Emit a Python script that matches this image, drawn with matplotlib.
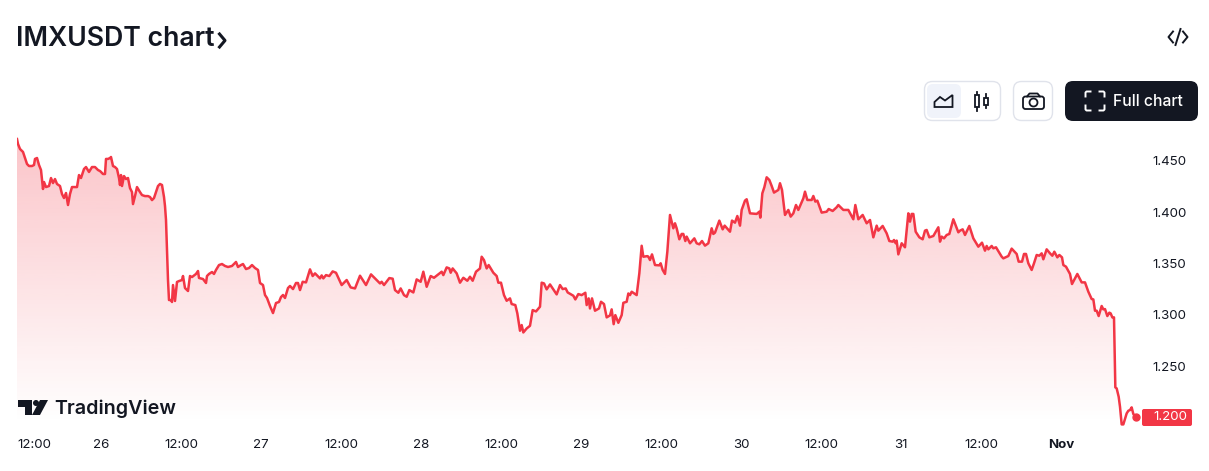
import numpy as np
import matplotlib
matplotlib.use('Agg')
import matplotlib.pyplot as plt
from matplotlib.patches import FancyBboxPatch, Polygon, Circle, Rectangle

# hours counted from Oct 26 00:00
hours = [
    -12.6, -12.45, -12.15, -11.7, -11.4, -11.1, -10.8, -10.35, -10.05, -9.9, -9.6, -9.3, -9.0, -8.7, -8.55, -8.25,
    -7.8, -7.5, -7.2, -6.9, -6.6, -6.15, -5.85, -5.55, -5.25, -4.95, -4.65, -4.35, -3.9, -3.6, -3.3, -3.0,
    -2.55, -2.25, -1.8, -1.35, -0.9, -0.45, -0.15, 0, 0.3, 0.6, 0.75, 1.05, 1.35, 1.5, 1.8, 2.1,
    2.4, 2.7, 2.85, 3.0, 3.15, 3.45, 3.75, 4.05, 4.35, 4.65, 4.8, 5.1, 5.4, 5.85, 6.15, 6.6,
    7.05, 7.35, 7.65, 7.95, 8.25, 8.55, 8.85, 9.15, 9.45, 9.6, 9.75, 9.9, 10.05, 10.2, 10.5, 10.65,
    10.8, 11.1, 11.4, 11.7, 12.15, 12.3, 12.6, 13.05, 13.35, 13.65, 14.25, 14.55, 14.7, 15.3, 15.75, 15.9,
    16.2, 16.65, 16.95, 17.25, 17.7, 18.15, 18.6, 19.05, 19.65, 20.25, 20.55, 21.0, 21.3, 21.75, 22.2, 22.65,
    23.1, 23.55, 23.85, 24.3, 24.6, 24.9, 25.35, 25.8, 26.25, 26.7, 27.0, 27.3, 27.6, 28.05, 28.35, 28.8,
    29.25, 29.55, 29.85, 30.25, 30.75, 31.35, 31.75, 32.1, 32.85, 33.1, 33.35, 33.75, 34.25, 34.75, 35.25, 36.1,
    36.85, 37.45, 38.1, 38.85, 39.75, 40.5, 41.85, 42.1, 42.45, 43.25, 43.75, 44.1, 44.6, 44.95, 45.45, 45.85,
    46.25, 46.85, 47.35, 47.95, 48.35, 48.85, 49.45, 49.95, 51.1, 51.35, 51.85, 52.25, 52.45, 52.75, 53.35, 53.85,
    54.35, 54.95, 55.35, 55.75, 56.25, 56.85, 57.1, 57.45, 57.85, 58.15, 58.85, 59.35, 59.6, 60.0, 60.45, 60.85,
    61.35, 61.6, 62.15, 62.45, 62.85, 63.1, 63.35, 63.85, 64.35, 64.75, 65.25, 65.85, 66.1, 66.45, 66.85, 67.35,
    68.35, 68.85, 69.25, 69.7, 70.0, 70.85, 71.15, 71.6, 72.1, 72.65, 72.85, 73.15, 73.35, 73.65, 74.1, 74.7,
    75.0, 75.45, 75.85, 76.35, 76.6, 76.9, 77.15, 77.6, 78.1, 78.35, 78.85, 79.1, 79.35, 79.6, 80.35, 80.75,
    81.1, 81.35, 81.95, 82.1, 82.35, 82.65, 83.1, 83.75, 83.95, 84.25, 84.6, 84.95, 85.35, 85.85, 86.1, 86.35,
    86.75, 87.1, 87.35, 87.65, 87.85, 88.35, 89.0, 89.35, 89.75, 90.15, 90.6, 91.1, 91.6, 91.85, 92.1, 92.75,
    93.25, 93.55, 94.35, 94.65, 95.1, 95.45, 95.85, 96.1, 96.6, 96.85, 97.35, 98.35, 98.75, 98.9, 99.2, 99.5,
    99.85, 100.25, 100.6, 100.95, 101.6, 101.85, 102.15, 102.6, 103.1, 103.45, 103.85, 104.25, 104.6, 105.35, 105.6, 105.95,
    106.6, 106.85, 107.15, 107.45, 108.1, 108.85, 109.15, 109.75, 110.35, 110.6, 111.35, 112.1, 112.85, 113.15, 113.6, 114.25,
    114.85, 115.35, 115.85, 116.35, 116.6, 117.25, 117.85, 118.25, 118.75, 118.95, 119.2, 119.35, 119.6, 120.1, 120.6, 121.1,
    121.35, 121.6, 121.85, 122.2, 122.75, 123.25, 123.6, 123.85, 124.25, 124.85, 125.6, 125.85, 126.1, 126.45, 126.85, 127.25,
    127.85, 128.6, 128.85, 129.25, 129.6, 130.25, 130.85, 131.6, 132.15, 132.6, 132.85, 133.1, 133.6, 133.85, 134.25, 135.1,
    135.35, 136.1, 136.6, 137.35, 137.65, 138.15, 138.45, 138.75, 139.1, 139.6, 139.95, 140.35, 140.75, 141.1, 141.35, 141.85,
    142.35, 142.7, 143.0, 143.45, 143.75, 144.15, 144.35, 144.75, 145.35, 145.65, 146.45, 147.1, 147.6, 148.1, 148.6, 148.85,
    149.1, 149.35, 149.65, 150.1, 150.35, 150.6, 150.95, 151.25, 151.45, 151.7, 151.95, 152.05, 152.15, 152.35, 152.65, 152.85,
    153.1, 153.35, 153.85, 154.1, 154.35, 154.6, 154.85, 155.2,
]
prices = [
    1.4714, 1.4666, 1.4617, 1.4588, 1.4529, 1.4471, 1.4451, 1.4451, 1.4461, 1.4520, 1.4529, 1.4461, 1.4412, 1.4227, 1.4295, 1.4246,
    1.4256, 1.4334, 1.4285, 1.4324, 1.4276, 1.4256, 1.4178, 1.4139, 1.4188, 1.4071, 1.4178, 1.4246, 1.4246, 1.4246, 1.4363, 1.4334,
    1.4422, 1.4441, 1.4393, 1.4441, 1.4441, 1.4412, 1.4402, 1.4393, 1.4373, 1.4373, 1.4520, 1.4520, 1.4529, 1.4539, 1.4451, 1.4441,
    1.4422, 1.4334, 1.4266, 1.4363, 1.4256, 1.4353, 1.4324, 1.4334, 1.4236, 1.4197, 1.4080, 1.4158, 1.4246, 1.4197, 1.4168, 1.4158,
    1.4158, 1.4149, 1.4119, 1.4139, 1.4197, 1.4256, 1.4276, 1.4266, 1.4149, 1.4061, 1.3925, 1.3633, 1.3340, 1.3145, 1.3145, 1.3126,
    1.3291, 1.3136, 1.3321, 1.3330, 1.3340, 1.3379, 1.3262, 1.3233, 1.3379, 1.3369, 1.3399, 1.3428, 1.3360, 1.3350, 1.3311, 1.3379,
    1.3399, 1.3418, 1.3399, 1.3438, 1.3486, 1.3496, 1.3477, 1.3467, 1.3477, 1.3516, 1.3467, 1.3486, 1.3496, 1.3447, 1.3457, 1.3486,
    1.3457, 1.3438, 1.3311, 1.3291, 1.3194, 1.3165, 1.3087, 1.3018, 1.3116, 1.3126, 1.3174, 1.3194, 1.3165, 1.3262, 1.3282, 1.3252,
    1.3311, 1.3311, 1.3242, 1.3323, 1.3317, 1.3444, 1.3379, 1.3405, 1.3356, 1.3385, 1.3356, 1.3388, 1.3379, 1.3424, 1.3411, 1.3291,
    1.3340, 1.3268, 1.3258, 1.3382, 1.3291, 1.3395, 1.3307, 1.3323, 1.3291, 1.3359, 1.3353, 1.3242, 1.3216, 1.3258, 1.3193, 1.3177,
    1.3242, 1.3219, 1.3346, 1.3323, 1.3421, 1.3274, 1.3379, 1.3362, 1.3421, 1.3388, 1.3463, 1.3453, 1.3411, 1.3453, 1.3405, 1.3314,
    1.3362, 1.3333, 1.3372, 1.3333, 1.3421, 1.3453, 1.3567, 1.3534, 1.3453, 1.3486, 1.3411, 1.3379, 1.3314, 1.3314, 1.3193, 1.3138,
    1.3161, 1.3106, 1.3096, 1.3015, 1.2846, 1.2901, 1.2829, 1.2868, 1.2894, 1.3047, 1.3034, 1.3080, 1.3314, 1.3307, 1.3249, 1.3297,
    1.3200, 1.3291, 1.3252, 1.3258, 1.3219, 1.3187, 1.3151, 1.3203, 1.3193, 1.3216, 1.3096, 1.3161, 1.3063, 1.3161, 1.3041, 1.3063,
    1.3128, 1.3106, 1.2976, 1.2995, 1.3054, 1.2910, 1.2998, 1.2923, 1.2998, 1.3118, 1.3128, 1.3209, 1.3193, 1.3226, 1.3193, 1.3405,
    1.3674, 1.3567, 1.3573, 1.3568, 1.3535, 1.3590, 1.3486, 1.3483, 1.3503, 1.3438, 1.3399, 1.3616, 1.3974, 1.3844, 1.3893, 1.3844,
    1.3737, 1.3789, 1.3789, 1.3720, 1.3763, 1.3698, 1.3746, 1.3698, 1.3688, 1.3720, 1.3675, 1.3698, 1.3844, 1.3789, 1.3802, 1.3919,
    1.3834, 1.3870, 1.3811, 1.3919, 1.3899, 1.3964, 1.3870, 1.4023, 1.4114, 1.4127, 1.3990, 1.3984, 1.4006, 1.3948, 1.4185, 1.4244,
    1.4341, 1.4315, 1.4257, 1.4192, 1.4218, 1.4283, 1.4218, 1.3974, 1.4023, 1.3958, 1.3990, 1.4071, 1.4023, 1.4136, 1.4201, 1.4120,
    1.4120, 1.4159, 1.4104, 1.4114, 1.3997, 1.4006, 1.4032, 1.4013, 1.4049, 1.4071, 1.4023, 1.4023, 1.3932, 1.4071, 1.3932, 1.3974,
    1.3893, 1.3925, 1.3756, 1.3870, 1.3821, 1.3867, 1.3795, 1.3720, 1.3714, 1.3730, 1.3698, 1.3724, 1.3590, 1.3698, 1.3659, 1.3990,
    1.3909, 1.3984, 1.3984, 1.3811, 1.3756, 1.3737, 1.3821, 1.3828, 1.3756, 1.3769, 1.3854, 1.3714, 1.3763, 1.3746, 1.3779, 1.3789,
    1.3932, 1.3805, 1.3821, 1.3834, 1.3779, 1.3867, 1.3746, 1.3665, 1.3704, 1.3626, 1.3672, 1.3639, 1.3672, 1.3649, 1.3659, 1.3568,
    1.3551, 1.3574, 1.3646, 1.3594, 1.3519, 1.3519, 1.3594, 1.3594, 1.3503, 1.3438, 1.3503, 1.3584, 1.3577, 1.3600, 1.3542, 1.3639,
    1.3600, 1.3577, 1.3616, 1.3561, 1.3584, 1.3561, 1.3486, 1.3470, 1.3399, 1.3301, 1.3399, 1.3317, 1.3317, 1.3226, 1.3155, 1.3151,
    1.3041, 1.3041, 1.2989, 1.3087, 1.3054, 1.3057, 1.2989, 1.3022, 1.3015, 1.2976, 1.2976, 1.2625, 1.2294, 1.2284, 1.2203, 1.2105,
    1.1933, 1.1933, 1.2040, 1.2066, 1.2073, 1.2099, 1.2034, 1.2008,
]

x_ticks = [-12.6, 0, 12, 24, 36, 48, 60, 72, 84, 96, 108, 120, 132, 144]
x_labels = ['12:00', '26', '12:00', '27', '12:00', '28', '12:00', '29', '12:00', '30', '12:00', '31', '12:00', 'Nov']
y_ticks = [1.25, 1.30, 1.35, 1.40, 1.45]
y_labels = ['1.250', '1.300', '1.350', '1.400', '1.450']
last_label = '1.200'

RED = '#f23645'
DARK = '#131722'
W, H = 1209, 471

plt.rcParams['font.family'] = ['Inter', 'DejaVu Sans']
fig = plt.figure(figsize=(W / 100, H / 100), dpi=100, facecolor='white')

# price pane
ax = fig.add_axes([17 / W, (H - 428) / H, (1141 - 17) / W, (428 - 130) / H])
ax.set_xlim(-12.6, 156)
ax.set_ylim(1.1898, 1.4802)

# gradient under the line, clipped to the area shape
area = ax.fill_between(hours, prices, 1.1898, facecolor='none', edgecolor='none')
grad = np.zeros((256, 1, 4))
grad[:, 0, :3] = matplotlib.colors.to_rgb(RED)
grad[:, 0, 3] = np.linspace(0.30, 0, 256)
im = ax.imshow(grad, extent=[-12.6, 156, 1.195, 1.4802], aspect='auto', origin='upper', zorder=1)
im.set_clip_path(area.get_paths()[0], transform=ax.transData)
ax.set_xlim(-12.6, 156)
ax.set_ylim(1.1898, 1.4802)

ax.plot(hours, prices, color=RED, lw=1.8, zorder=2, solid_joinstyle='round')
ax.plot(hours[-1], prices[-1], 'o', color=RED, ms=5, zorder=3)

for s in ax.spines.values():
    s.set_visible(False)
ax.patch.set_alpha(0)
ax.yaxis.tick_right()
ax.set_yticks(y_ticks, y_labels)
ax.set_xticks(x_ticks, x_labels)
ax.tick_params(axis='both', length=0, labelsize=9.6, labelcolor=DARK)
ax.tick_params(axis='x', pad=8)
ax.tick_params(axis='y', pad=8.5)
for lab in ax.get_yticklabels():
    lab.set_ha('left')
ax.get_xticklabels()[0].set_ha('left')
ax.get_xticklabels()[-1].set_fontweight('bold')

# header, buttons, logo, drawn in pixel coordinates
ui = fig.add_axes([0, 0, 1, 1], zorder=5)
ui.set_xlim(0, W)
ui.set_ylim(H, 0)
ui.axis('off')
ui.patch.set_alpha(0)


def box(x0, y0, x1, y1, r, **kw):
    ui.add_patch(FancyBboxPatch((x0 + r, y0 + r), x1 - x0 - 2 * r, y1 - y0 - 2 * r,
                                boxstyle='round,pad=%s,rounding_size=%s' % (r, r), **kw))


ui.text(16, 38.5, 'IMXUSDT chart', fontsize=19.2, fontweight='semibold', color=DARK, va='center', ha='left')
ui.plot([219.5, 225, 219.5], [34, 40.5, 47], color=DARK, lw=2.2)

# code icon
ui.plot([1173, 1168.5, 1173], [31.5, 37, 42.5], color=DARK, lw=1.4)
ui.plot([1183, 1187.5, 1183], [31.5, 37, 42.5], color=DARK, lw=1.4)
ui.plot([1180.5, 1175.5], [29, 45], color=DARK, lw=1.4)

# chart style toggle
box(924.5, 81.5, 1000.5, 120.5, 8, facecolor='white', edgecolor='#e0e3eb', lw=1)
box(927, 84, 961, 118, 6, facecolor='#f0f3fa', edgecolor='none')
ui.add_patch(Polygon([(934.5, 107), (934.5, 102), (940, 97), (945, 100.5), (952.5, 95), (952.5, 107)],
                     closed=True, fill=False, edgecolor=DARK, lw=1.3))
ui.plot([977, 977], [92, 111], color=DARK, lw=1.3)
ui.add_patch(Rectangle((975, 95), 4, 12, facecolor='#ffffff', edgecolor=DARK, lw=1.3, zorder=3))
ui.plot([986, 986], [94, 108], color=DARK, lw=1.3)
ui.add_patch(Rectangle((984.2, 97.5), 3.6, 7, facecolor='#ffffff', edgecolor=DARK, lw=1.3, zorder=3))

# camera
box(1013.5, 81.5, 1052.5, 120.5, 8, facecolor='white', edgecolor='#e0e3eb', lw=1)
box(1023, 96.5, 1044, 109, 2.5, facecolor='none', edgecolor=DARK, lw=1.3)
ui.plot([1027, 1029.5, 1037.5, 1040], [96.5, 93.5, 93.5, 96.5], color=DARK, lw=1.3)
ui.add_patch(Circle((1033.5, 102.5), 4, fill=False, edgecolor=DARK, lw=1.3))

# full chart button
box(1065, 81, 1198, 121, 8, facecolor=DARK, edgecolor='none')
for cx, cy, dx, dy in [(1085.5, 91.5, 1, 1), (1104.5, 91.5, -1, 1), (1085.5, 110.5, 1, -1), (1104.5, 110.5, -1, -1)]:
    ui.plot([cx + 5 * dx, cx + dx, cx, cx], [cy, cy, cy + dy, cy + 5 * dy], color='white', lw=1.4)
ui.text(1113, 101.5, 'Full chart', fontsize=11.3, fontweight='medium', color='white', va='center', ha='left')

# last price label
box(1142, 409, 1192, 426, 2, facecolor=RED, edgecolor='none')
ui.text(1153, 417.5, last_label, fontsize=9.6, color='white', va='center', ha='left')

# TradingView logo
ui.add_patch(Polygon([(18, 400), (32, 400), (32, 415), (24.5, 415), (24.5, 406.5), (18, 406.5)], closed=True, facecolor=DARK, edgecolor='none'))
ui.add_patch(Circle((36, 403), 3, facecolor=DARK, edgecolor='none'))
ui.add_patch(Polygon([(40, 400), (48, 400), (40, 415), (32, 415)], closed=True, facecolor=DARK, edgecolor='none'))
ui.text(54.5, 408.5, 'TradingView', fontsize=14.2, fontweight='semibold', color=DARK, va='center', ha='left')

fig.savefig('out.png', dpi=100, facecolor='white')
